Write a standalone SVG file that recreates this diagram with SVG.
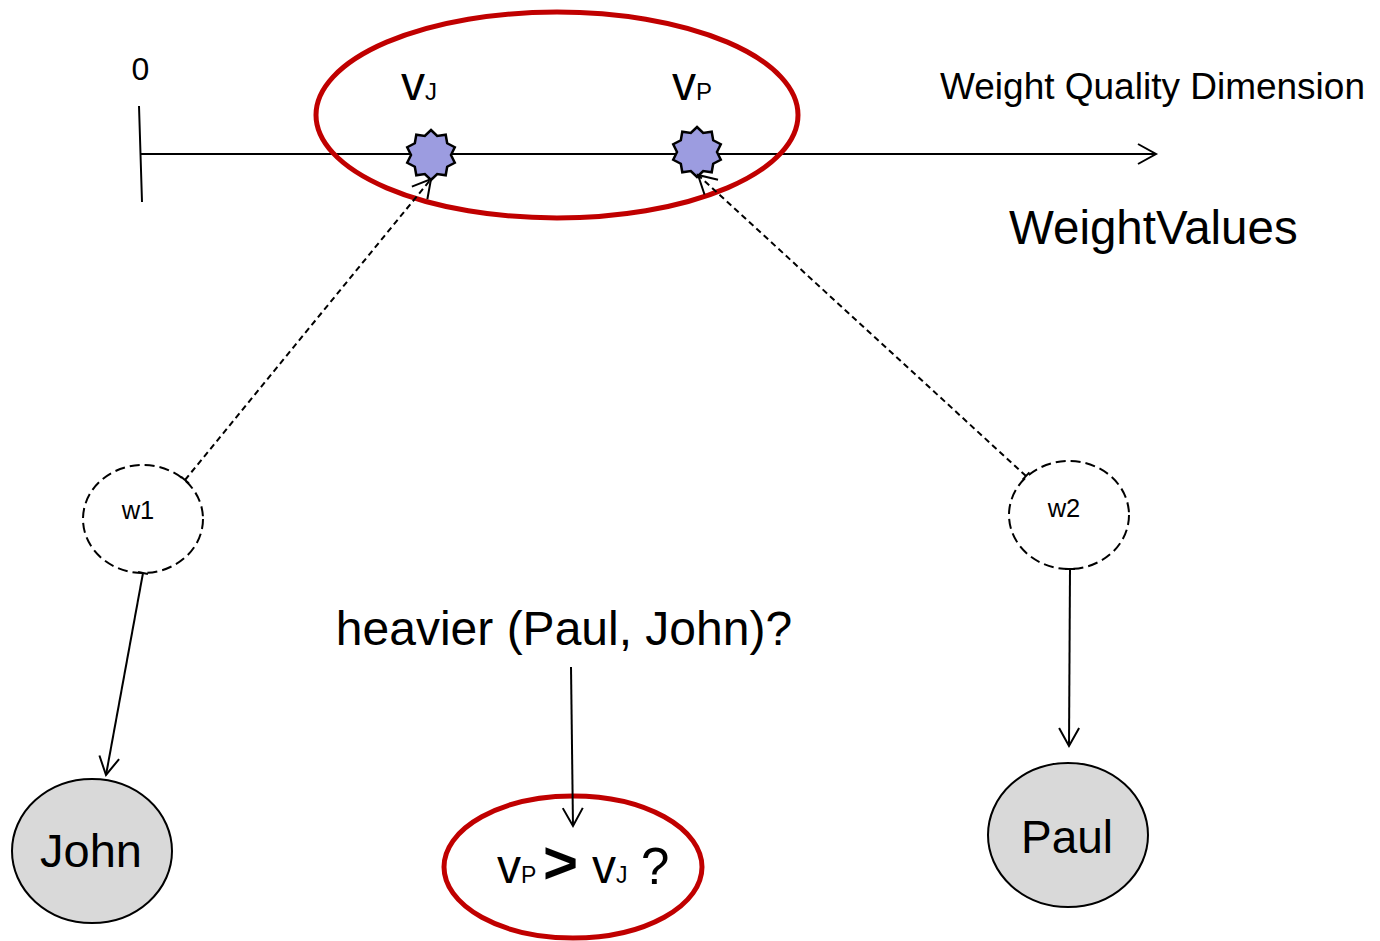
<svg xmlns="http://www.w3.org/2000/svg" width="1380" height="941" viewBox="0 0 1380 941">
  <style>
    text { font-family: "Liberation Sans", Arial, sans-serif; fill: #000; }
    .conn { fill: none; stroke: #000; stroke-width: 2; }
    .dash { stroke-dasharray: 6 4; }
    .red { fill: none; stroke: #C00000; stroke-width: 5; }
    .val { fill: #9C9CE0; stroke: #000; stroke-width: 2.5; stroke-linejoin: miter; }
    .quale { fill: #fff; stroke: #000; stroke-width: 2; stroke-dasharray: 10 5; }
    .ind { fill: #D9D9D9; stroke: #000; stroke-width: 2; }
  </style>
  <defs>
    <marker id="arrow" markerUnits="userSpaceOnUse" viewBox="-20 -12 22 24" markerWidth="22" markerHeight="24" refX="0" refY="0" orient="auto" overflow="visible">
      <path d="M-18,-10 L0,0 L-18,10" fill="none" stroke="#000" stroke-width="2"/>
    </marker>
    <marker id="tick" markerUnits="userSpaceOnUse" viewBox="-2 -6 4 12" markerWidth="4" markerHeight="12" refX="0" refY="0" orient="auto" overflow="visible">
      <path d="M0,-5 L0,5" fill="none" stroke="#000" stroke-width="2"/>
    </marker>
    <polygon id="star" points="0,-25 6.18,-19.02 14.7,-20.23 16.18,-11.76 23.78,-7.73 20,0 23.78,7.73 16.18,11.76 14.7,20.23 6.18,19.02 0,25 -6.18,19.02 -14.7,20.23 -16.18,11.76 -23.78,7.73 -20,0 -23.78,-7.73 -16.18,-11.76 -14.7,-20.23 -6.18,-19.02"/>
  </defs>

  <rect width="1380" height="941" fill="#fff"/>

  <!-- weight quality dimension axis -->
  <g id="axis">
    <line x1="139" y1="106" x2="142" y2="202" class="conn"/>
    <line x1="141" y1="154" x2="1156" y2="154" class="conn" marker-end="url(#arrow)"/>
    <text x="140.5" y="80" font-size="32" text-anchor="middle">0</text>
    <text x="940" y="99" font-size="37">Weight Quality Dimension</text>
    <text x="1009" y="244" font-size="47.5">WeightValues</text>
  </g>

  <!-- highlighted region of the dimension -->
  <ellipse id="region" cx="557" cy="115" rx="241" ry="103" class="red"/>

  <g id="vJ">
    <use href="#star" x="431" y="155" class="val"/>
    <text x="401" y="100" font-size="48">v<tspan font-size="24">J</tspan></text>
  </g>

  <g id="vP">
    <use href="#star" x="697" y="152" class="val"/>
    <text x="672" y="100" font-size="48">v<tspan font-size="24">P</tspan></text>
  </g>

  <g id="w1">
    <ellipse cx="143" cy="519" rx="60" ry="54" class="quale"/>
    <text x="138" y="519" font-size="25.5" text-anchor="middle">w1</text>
  </g>

  <g id="w2">
    <ellipse cx="1069" cy="515" rx="60" ry="54" class="quale"/>
    <text x="1064" y="517" font-size="25.5" text-anchor="middle">w2</text>
  </g>

  <g id="john">
    <ellipse cx="92" cy="851" rx="80" ry="72" class="ind"/>
    <text x="91" y="867" font-size="47" text-anchor="middle">John</text>
  </g>

  <g id="paul">
    <ellipse cx="1068" cy="835" rx="80" ry="72" class="ind"/>
    <text x="1067" y="853" font-size="46" text-anchor="middle">Paul</text>
  </g>

  <g id="question">
    <text x="564" y="645" font-size="48" text-anchor="middle">heavier (Paul, John)?</text>
  </g>

  <g id="comparison">
    <ellipse cx="573" cy="867" rx="129" ry="71" class="red"/>
    <text x="497" y="883" font-size="48">v<tspan font-size="23">P</tspan></text>
    <text x="543" y="883" font-size="60" font-weight="bold">&gt;</text>
    <text x="592" y="883" font-size="48">v<tspan font-size="23">J</tspan></text>
    <text x="641" y="884" font-size="51">?</text>
  </g>

  <g id="connectors">
    <line x1="185" y1="480" x2="431" y2="179" class="conn dash" marker-start="url(#tick)" marker-end="url(#arrow)"/>
    <line x1="1026" y1="476" x2="698" y2="175" class="conn dash" marker-start="url(#tick)" marker-end="url(#arrow)"/>
    <line x1="143" y1="573" x2="106" y2="775" class="conn" marker-start="url(#tick)" marker-end="url(#arrow)"/>
    <line x1="1070" y1="569" x2="1069" y2="746" class="conn" marker-start="url(#tick)" marker-end="url(#arrow)"/>
    <line x1="571" y1="667" x2="573" y2="826" class="conn" marker-end="url(#arrow)"/>
  </g>
</svg>
